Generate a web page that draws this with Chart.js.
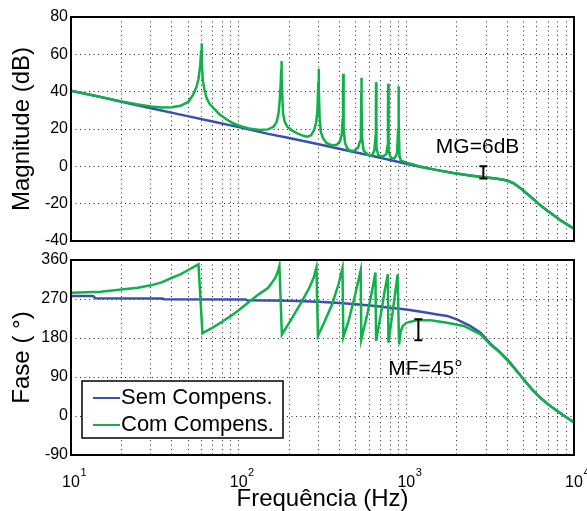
<!DOCTYPE html>
<html>
<head>
<meta charset="utf-8">
<script src="https://cdn.jsdelivr.net/npm/chart.js@4.4.1/dist/chart.umd.min.js"></script>
<style>
    html, body { margin: 0; padding: 0; background: #fff; }
    #wrap { position: relative; width: 587px; height: 511px; overflow: hidden; }
    #wrap canvas { position: absolute; left: 0; top: 0; }
</style>
</head>
<body>
<div id="wrap">
    <canvas id="magChart" width="587" height="511"></canvas>
    <canvas id="phaseChart" width="587" height="511"></canvas>
</div>
<script>
// Series names and colours
const seriesNames = ["Sem Compens.", "Com Compens."];
const seriesColors = ["#3b4fb0", "#10b04a"];

// Magnitude (dB) - uncompensated
const semMagFreq = [10, 15, 20, 30, 45, 70, 100, 150, 200, 300, 450, 650, 900, 1200, 1500, 1900, 2400, 2900, 3400, 3800, 4100, 4400, 4800, 5250, 5800, 6300, 7000, 7600, 8500, 10000];
const semMag = [40.5, 37.1, 34.6, 31.1, 27.7, 24.0, 21.0, 17.4, 15.2, 11.8, 8.4, 5.3, 2.3, -0.2, -1.9, -3.6, -4.9, -5.8, -6.5, -7.2, -8.0, -9.3, -11.8, -14.7, -18.0, -20.9, -24.0, -26.3, -29.5, -33.4];

// Magnitude (dB) - compensated (resonant peaks at odd harmonics)
const comMagFreq = [10, 15, 20, 25, 30, 35, 40, 45, 50, 53.5, 56, 57.5, 59, 59.7, 60, 60.4, 61, 62.5, 64.4, 67, 70.8, 77, 84.5, 92, 102, 115, 134, 150, 161, 168, 173, 176, 178, 179.5, 180, 180.7, 182, 184, 188, 195, 210, 224, 245, 257, 270, 282, 290, 295, 298.5, 300, 301, 304, 309, 318, 334, 360, 385, 402, 412, 417, 419, 420, 421, 424, 431, 445, 464, 490, 515, 530, 536, 539, 540, 541, 545, 556, 590, 625, 645, 655, 658.5, 660, 661, 665, 680, 720, 760, 772, 777, 780, 781, 787, 810, 850, 880, 894, 898.5, 900, 902, 910, 925, 1000, 1100, 1200, 1500, 1900, 2400, 2900, 3400, 3800, 4100, 4400, 4800, 5250, 5800, 6300, 7000, 7600, 8500, 10000];
const comMag = [40.5, 37.2, 34.8, 33.2, 32.0, 31.5, 31.6, 32.4, 34.5, 38.4, 42.5, 46.5, 54, 62, 66, 58, 46.5, 41, 36.6, 33.5, 31.2, 27.8, 25.2, 23.2, 21.6, 20.3, 19.5, 19.8, 21.2, 23.5, 28.5, 36, 44, 52, 56.4, 48, 38, 28.5, 24, 21.2, 19, 17.7, 16.2, 15.9, 16.6, 19.5, 23.5, 30, 45, 52.3, 42, 26, 18.5, 15.2, 12.5, 11.2, 11.5, 13.5, 17, 25, 38, 49.6, 36, 20, 12.5, 9.5, 8.3, 8.5, 10, 13.5, 22, 40, 47.4, 34, 15, 8.5, 6.2, 5.9, 8.5, 16, 32, 45, 30, 10, 6, 5.2, 6.5, 11, 30, 44.3, 28, 8, 4.5, 4.3, 6.9, 20, 32, 42.9, 25, 6, 3.2, 2.0, 1.0, 0.0, -1.9, -3.6, -4.9, -5.8, -6.5, -7.2, -8.0, -9.3, -11.8, -14.7, -18.0, -20.9, -24.0, -26.3, -29.5, -33.4];

// Phase (deg) - uncompensated
const semPhaseFreq = [10, 13.5, 14, 35, 36, 110, 112, 200, 300, 400, 500, 650, 800, 1000, 1250, 1500, 1750, 2000, 2400, 2770, 3170, 3600, 4000, 4500, 5000, 5600, 6300, 7000, 7940, 9000, 10000];
const semPhase = [277, 277, 272, 271, 269.5, 269, 267, 266, 263.5, 261, 258, 254, 250, 246, 240, 235, 231, 223, 208, 192, 167, 148, 131, 107, 85, 62, 42, 27, 11.5, -3, -15];

// Phase (deg) - compensated
const comPhaseFreq = [10, 15, 20, 25, 30, 35, 40, 45, 50, 55, 57.6, 60.8, 62, 70, 80, 90, 100, 115, 130, 150, 165, 172, 175, 181, 203, 233, 264, 280, 291, 297, 320, 361, 394, 416, 421, 452, 496, 534, 539, 585, 625, 654, 660, 710, 743, 776, 782, 835, 887, 905, 925, 950, 1000, 1150, 1400, 1750, 2200, 2770, 3170, 3600, 4000, 4500, 5000, 5600, 6300, 7000, 7940, 9000, 10000];
const comPhase = [284.6, 287, 292, 296, 301.5, 309, 319, 327, 337, 346, 350, 191, 193, 204, 218, 231, 244, 263, 279, 296, 318, 335, 346, 188, 219, 258, 296, 319, 343, 185, 211.5, 258, 304, 341, 182, 219, 281, 336, 177, 234.6, 289, 331, 173, 242, 289, 327, 169, 250, 327, 165, 195, 207, 215, 221, 221, 215, 207.7, 188.5, 165, 147, 129, 106, 85, 62, 42, 27, 11.5, -3, -15];

// Axis ticks
const magTicks = [-40, -20, 0, 20, 40, 60, 80];
const phaseTicks = [-90, 0, 90, 180, 270, 360];
const decades = [10, 100, 1000, 10000];
const decadeExp = ["1", "2", "3", "4"];
const decadeSteps = [1, 2, 3, 4, 5, 6, 7, 8, 9];

// Annotations
const mgText = "MG=6dB", mgFreq = 2880, mgTop = 0, mgBottom = -6.5, mgTextAt = [1500, 10];
const mfText = "MF=45°", mfFreq = 1180, mfTop = 223, mfBottom = 175, mfTextAt = [780, 107];

const FONT = "'Liberation Sans', Arial, Helvetica, sans-serif";
Chart.defaults.font.family = FONT;
Chart.defaults.color = "#000";

const xGridTicks = [];
decades.forEach((d, i) => {
    if (i === decades.length - 1) { xGridTicks.push(d); return; }
    decadeSteps.forEach(m => xGridTicks.push(d * m));
});

const toPoints = (xs, ys) => xs.map((x, i) => ({ x: x, y: ys[i] }));

const gridOpts = { color: "rgba(0,0,0,0.85)", lineWidth: 1, drawTicks: false };
const borderOpts = { display: false, dash: [1, 3.5] };

function xAxis(title) {
    return {
        type: "logarithmic",
        min: 10,
        max: 10000,
        afterBuildTicks: s => { s.ticks = xGridTicks.map(v => ({ value: v })); },
        ticks: { display: false },
        grid: gridOpts,
        border: borderOpts,
        title: title ? {
            display: true, text: title, color: "#000",
            font: { size: 24, lineHeight: 1 }, padding: { top: 0, bottom: 0 }
        } : { display: false },
        afterFit: s => { s.height = title ? 56 : 0; }
    };
}

function yAxis(min, max, ticks, title) {
    return {
        min: min,
        max: max,
        afterBuildTicks: s => { s.ticks = ticks.map(v => ({ value: v })); },
        ticks: { color: "#000", font: { size: 16 }, padding: 3 },
        grid: gridOpts,
        border: borderOpts,
        title: {
            display: true, text: title, color: "#000",
            font: { size: 24, lineHeight: 1.2 }, padding: { top: 8, bottom: 0 }
        },
        afterFit: s => { s.width = 71; }
    };
}

function datasets(semF, semV, comF, comV) {
    return [
        { label: seriesNames[0], data: toPoints(semF, semV), borderColor: seriesColors[0], borderWidth: 2.5, pointRadius: 0, tension: 0, fill: false, order: 1 },
        { label: seriesNames[1], data: toPoints(comF, comV), borderColor: seriesColors[1], borderWidth: 2.5, pointRadius: 0, tension: 0, fill: false, order: 0 }
    ];
}

// Frame around the plot area
const framePlugin = {
    id: "frame",
    afterDraw(chart) {
        const { ctx, chartArea: a } = chart;
        ctx.save();
        ctx.strokeStyle = "#000";
        ctx.lineWidth = 2;
        ctx.strokeRect(a.left, a.top, a.right - a.left, a.bottom - a.top);
        ctx.restore();
    }
};

function ibeam(ctx, x, y1, y2) {
    ctx.save();
    ctx.strokeStyle = "#000";
    ctx.lineWidth = 2;
    ctx.beginPath();
    ctx.moveTo(x, y1); ctx.lineTo(x, y2);
    ctx.moveTo(x - 4, y1); ctx.lineTo(x + 4, y1);
    ctx.moveTo(x - 4, y2); ctx.lineTo(x + 4, y2);
    ctx.stroke();
    ctx.restore();
}

function label(ctx, text, x, y) {
    ctx.save();
    ctx.fillStyle = "#000";
    ctx.font = "21px " + FONT;
    ctx.textAlign = "left";
    ctx.textBaseline = "middle";
    ctx.fillText(text, x, y);
    ctx.restore();
}

const mgPlugin = {
    id: "mg",
    afterDatasetsDraw(chart) {
        const { ctx, scales: { x, y } } = chart;
        ibeam(ctx, x.getPixelForValue(mgFreq), y.getPixelForValue(mgTop), y.getPixelForValue(mgBottom));
        label(ctx, mgText, x.getPixelForValue(mgTextAt[0]), y.getPixelForValue(mgTextAt[1]));
    }
};

const phasePlugin = {
    id: "phaseExtras",
    afterDatasetsDraw(chart) {
        const { ctx, scales: { x, y } } = chart;
        ibeam(ctx, x.getPixelForValue(mfFreq), y.getPixelForValue(mfTop), y.getPixelForValue(mfBottom));
        label(ctx, mfText, x.getPixelForValue(mfTextAt[0]), y.getPixelForValue(mfTextAt[1]));
    },
    afterDraw(chart) {
        const { ctx, chartArea: a, scales: { x } } = chart;
        ctx.save();
        // decade labels 10^n
        decades.forEach((d, i) => {
            const px = x.getPixelForValue(d);
            ctx.fillStyle = "#000";
            ctx.font = "16px " + FONT;
            ctx.textAlign = "center";
            ctx.textBaseline = "alphabetic";
            ctx.fillText("10", px, a.bottom + 32);
            const w = ctx.measureText("10").width;
            ctx.font = "11px " + FONT;
            ctx.textAlign = "left";
            ctx.fillText(decadeExp[i], px + w / 2 + 0.5, a.bottom + 21);
        });
        // legend box
        const bx = a.left + 11, by = a.bottom - 74, bw = 201, bh = 57;
        ctx.fillStyle = "#fff";
        ctx.fillRect(bx, by, bw, bh);
        ctx.strokeStyle = "#000";
        ctx.lineWidth = 1.5;
        ctx.strokeRect(bx, by, bw, bh);
        seriesNames.forEach((name, i) => {
            const ly = by + 17 + i * 27;
            ctx.strokeStyle = seriesColors[i];
            ctx.lineWidth = 2;
            ctx.beginPath();
            ctx.moveTo(bx + 11, ly);
            ctx.lineTo(bx + 38, ly);
            ctx.stroke();
            ctx.fillStyle = "#000";
            ctx.font = "22px " + FONT;
            ctx.textAlign = "left";
            ctx.textBaseline = "middle";
            ctx.fillText(name, bx + 39, ly);
        });
        ctx.restore();
    }
};

const baseOptions = {
    responsive: false,
    animation: false,
    plugins: { legend: { display: false }, tooltip: { enabled: false } }
};

new Chart(document.getElementById("magChart"), {
    type: "line",
    data: { datasets: datasets(semMagFreq, semMag, comMagFreq, comMag) },
    options: {
        ...baseOptions,
        layout: { padding: { top: 17, right: 13, bottom: 270, left: 0 } },
        scales: { x: xAxis(null), y: yAxis(-40, 80, magTicks, "Magnitude (dB)") }
    },
    plugins: [framePlugin, mgPlugin]
});

new Chart(document.getElementById("phaseChart"), {
    type: "line",
    data: { datasets: datasets(semPhaseFreq, semPhase, comPhaseFreq, comPhase) },
    options: {
        ...baseOptions,
        layout: { padding: { top: 260, right: 13, bottom: 0, left: 0 } },
        scales: { x: xAxis("Frequência (Hz)"), y: yAxis(-90, 360, phaseTicks, "Fase ( °)") }
    },
    plugins: [framePlugin, phasePlugin]
});
</script>
</body>
</html>
